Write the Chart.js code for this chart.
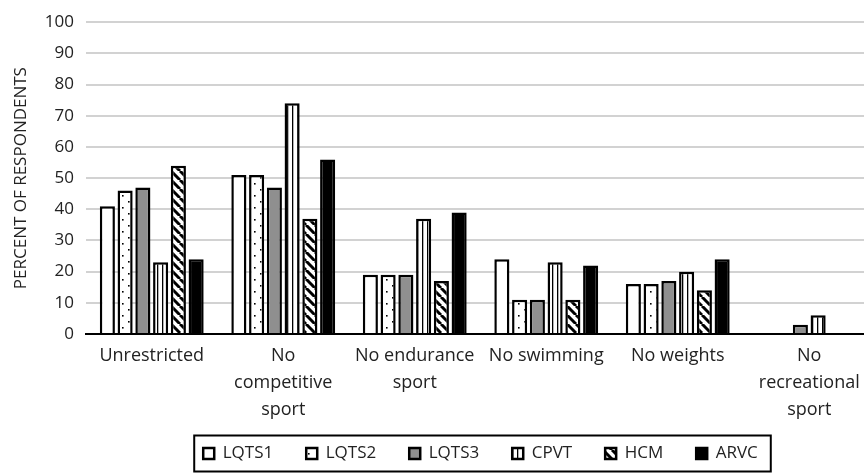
<!DOCTYPE html>
<html>
<head>
<meta charset="utf-8">
<script src="https://cdn.jsdelivr.net/npm/chart.js@4"></script>
<style>
  html, body { margin: 0; padding: 0; background: #fff; overflow: hidden; }
  #wrap { width: 864px; height: 473px; overflow: hidden; }
</style>
</head>
<body>
<div id="wrap"><canvas id="myChart" width="880" height="473"></canvas></div>
<script>
// dados do grafico
const categories = ['Unrestricted', ['No', 'competitive', 'sport'], ['No endurance', 'sport'], 'No swimming', 'No weights', ['No', 'recreational', 'sport']];
const seriesNames = ['LQTS1', 'LQTS2', 'LQTS3', 'CPVT', 'HCM', 'ARVC'];
const lqts1 = [41, 51, 19, 24, 16, 0];
const lqts2 = [46, 51, 19, 11, 16, 0];
const lqts3 = [47, 47, 19, 11, 17, 3];
const cpvt = [23, 74, 37, 23, 20, 6];
const hcm = [54, 37, 17, 11, 14, 0];
const arvc = [24, 56, 39, 22, 24, 0];
const yTicks = [0, 10, 20, 30, 40, 50, 60, 70, 80, 90, 100];

// padroes de preenchimento
function pattern(kind) {
  const c = document.createElement('canvas');
  const p = c.getContext('2d');
  if (kind === 'dots') {
    c.width = 12; c.height = 12;
    p.fillStyle = '#fff'; p.fillRect(0, 0, 12, 12);
    p.fillStyle = '#000';
    p.fillRect(2, 3, 1.6, 1.6);
    p.fillRect(8, 9, 1.6, 1.6);
  } else if (kind === 'vlines') {
    c.width = 5; c.height = 5;
    p.fillStyle = '#fff'; p.fillRect(0, 0, 5, 5);
    p.fillStyle = '#000';
    p.fillRect(2, 0, 1.3, 5);
  } else if (kind === 'diag') {
    const s = 9;
    c.width = s; c.height = s;
    p.fillStyle = '#fff'; p.fillRect(0, 0, s, s);
    p.strokeStyle = '#000'; p.lineWidth = 3;
    [-s, 0, s].forEach(x0 => {
      p.beginPath(); p.moveTo(x0, 0); p.lineTo(x0 + s, s); p.stroke();
    });
  }
  return p.createPattern(c, 'repeat');
}

const fills = ['#ffffff', pattern('dots'), '#8f8f8f', pattern('vlines'), pattern('diag'), '#000000'];
const values = [lqts1, lqts2, lqts3, cpvt, hcm, arvc];

// caixa em volta da legenda
const legendBox = {
  id: 'legendBox',
  afterDraw(chart) {
    const hb = chart.legend.legendHitBoxes;
    if (!hb || !hb.length) return;
    const first = hb[0], last = hb[hb.length - 1];
    const cy = first.top + first.height / 2;
    const c = chart.ctx;
    c.save();
    c.strokeStyle = '#000';
    c.lineWidth = 2;
    c.strokeRect(first.left - 9, cy - 18, last.left + last.width - first.left + 22, 36);
    c.restore();
  }
};

const ctx = document.getElementById('myChart');

new Chart(ctx, {
  type: 'bar',
  data: {
    labels: categories,
    datasets: seriesNames.map((name, i) => ({
      label: name,
      data: values[i],
      backgroundColor: fills[i],
      borderColor: '#000',
      borderWidth: 2.5,
      categoryPercentage: 0.81,
      barPercentage: 0.85
    }))
  },
  options: {
    responsive: false,
    animation: false,
    devicePixelRatio: 1,
    layout: { autoPadding: false, padding: { top: 17, right: 5, left: 0, bottom: 1 } },
    plugins: {
      tooltip: { enabled: false },
      legend: {
        position: 'bottom',
        fullSize: false,
        labels: {
          boxWidth: 11,
          boxHeight: 11,
          padding: 33,
          color: '#222',
          font: { family: 'Open Sans', size: 17 }
        }
      }
    },
    scales: {
      x: {
        grid: { display: false, drawTicks: false },
        border: { color: '#000', width: 2 },
        ticks: {
          color: '#222',
          padding: 8,
          maxRotation: 0,
          autoSkip: false,
          font: { family: 'Open Sans', size: 18, lineHeight: 1.5 }
        },
        afterFit: s => {
          s.height = 78;
          // deixa a terceira linha passar da area do eixo
          s._computeLabelArea = () => undefined;
        }
      },
      y: {
        min: 0,
        max: 100,
        afterBuildTicks: s => { s.ticks = yTicks.map(v => ({ value: v })); },
        afterFit: s => { s.width = 86; },
        grid: {
          drawTicks: false,
          lineWidth: 2,
          color: c => (c.tick && c.tick.value === 0) ? '#000' : '#d2d2d2'
        },
        border: { display: false },
        ticks: {
          color: '#222',
          padding: 12,
          font: { family: 'Open Sans', size: 17 }
        },
        title: {
          display: true,
          text: 'PERCENT OF RESPONDENTS',
          color: '#222',
          padding: { top: 11, bottom: 0 },
          font: { family: 'Open Sans', size: 17 }
        }
      }
    }
  },
  plugins: [legendBox]
});
</script>
</body>
</html>
